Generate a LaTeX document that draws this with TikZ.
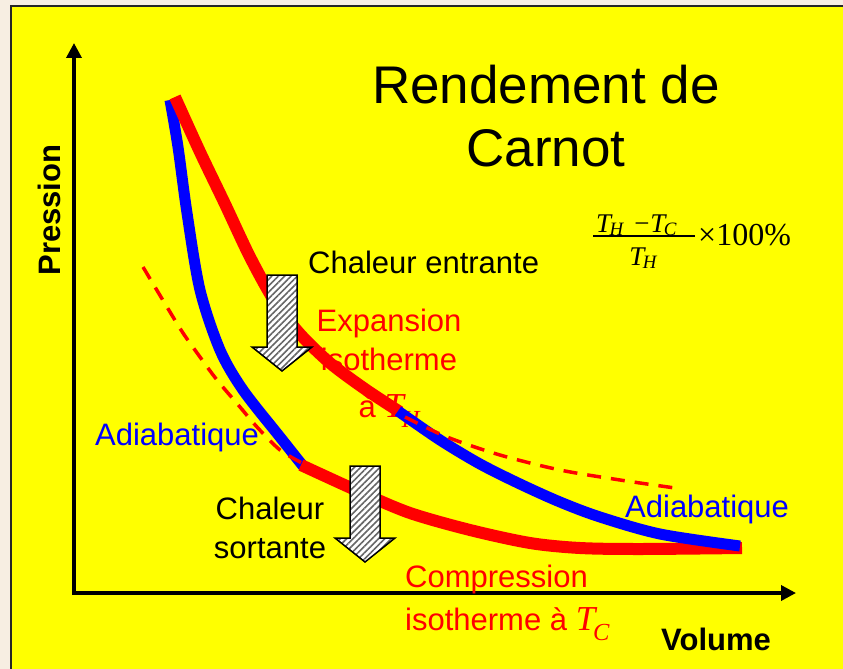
\documentclass[tikz,border=0pt]{standalone}
\usepackage{fontspec}
\setmainfont{Liberation Sans}
\newfontfamily\tnr{Liberation Serif}
\usetikzlibrary{arrows.meta, patterns.meta}
\definecolor{slide}{HTML}{FFFF00}
\definecolor{paper}{HTML}{F7EEE2}
\definecolor{hot}{HTML}{FF0000}
\definecolor{cold}{HTML}{0000FF}
\newcommand{\Tsub}[2][0.3em]{{\tnr\itshape T\kern-0.06em\raisebox{-#1}{\scalebox{0.7}{#2}}}}

\begin{document}
\begin{tikzpicture}[x=1pt, y=-1pt,
  lbl/.style={inner sep=0pt, align=center, font=\fontsize{31}{39}\selectfont},
  axlbl/.style={lbl, font=\bfseries\fontsize{31}{39}\selectfont},
  formula/.style={inner sep=0pt, font=\tnr\fontsize{27}{30}\selectfont},
  axis/.style={line width=3.5pt, {Triangle[length=15pt,width=15pt]}-{Triangle[length=15pt,width=15pt]}},
  isotherm/.style={hot, line width=12pt},
  adiabat/.style={cold, line width=11pt},
  isodash/.style={hot, line width=3.5pt, dash pattern=on 14pt off 10pt},
  heat/.style={draw=black, line width=1.5pt, line join=miter, preaction={fill=white},
               pattern={Lines[angle=45, distance=4.5pt, line width=1.6pt]}, pattern color=black!60},
]
\useasboundingbox (0,0) rectangle (843,669);

% slide
\fill[paper] (0,0) rectangle (843,669);
\fill[slide] (11,6) rectangle (850,680);
\draw[line width=2pt, black!85] (11,680) -- (11,6) -- (850,6);

% axes
\coordinate (ytop) at (74,43);
\coordinate (O) at (74,593);
\coordinate (xend) at (796,593);
\draw[axis] (ytop) -- (O) -- (xend);
\node[axlbl, rotate=90, anchor=base] (pres) at (60,210) {Pression};
\node[axlbl, anchor=base] (vol) at (716,650) {Volume};

% title and efficiency
\node[lbl, font=\fontsize{53}{63}\selectfont, anchor=base] (ttl) at (546,166) {Rendement de\\Carnot};
\node[formula, anchor=base west] (effnum) at (596,232) {\Tsub[0.12em]{H}\hspace{11pt}−\hspace{1pt}\Tsub[0.12em]{C}};
\node[formula, anchor=base] (effden) at (643,265) {\Tsub[0.12em]{H}};
\draw[line width=1.3pt] (593,236) -- (695,236);
\node[formula, font=\tnr\fontsize{32}{36}\selectfont, anchor=base west] (effpct) at (698,245) {×100\%};

% labels
\node[lbl, anchor=base west] (qinlbl) at (308,273) {Chaleur entrante};
\node[lbl, anchor=base, text=hot] (explbl) at (389,417)
  {Expansion\\isotherme\\[8pt]à {\fontsize{35}{40}\selectfont\Tsub{H}}};
\node[lbl, anchor=base west, text=cold] (adl) at (95,445) {Adiabatique};
\node[lbl, anchor=base west, text=cold] (adr) at (625,517) {Adiabatique};
\node[lbl, anchor=base] (qoutlbl) at (270,558) {Chaleur\\sortante};
\node[lbl, anchor=base west, align=left, text=hot] (cmplbl) at (405,630)
  {Compression\\[4pt]isotherme à {\fontsize{35}{40}\selectfont\Tsub{C}}};

% cycle
\draw[adiabat] plot[smooth] coordinates {(170,100) (178,147) (187,213) (200,290) (220,350) (243,390) (280,437) (303,466)};
\draw[isotherm] plot[smooth] coordinates {(175,97) (200,152) (225,204) (250,257) (275,302) (300,334) (330,363) (365,389) (400,412)};
\draw[isotherm] plot[smooth] coordinates {(301,465) (360,492) (410,513) (470,530) (530,543) (580,548) (640,549) (742,548)};
\draw[adiabat] plot[smooth] coordinates {(398,411) (440,440) (480,464) (520,484) (560,502) (600,517) (660,534) (740,546)};
\draw[isodash] plot[smooth] coordinates {(143,267) (167,307) (183,333) (200,357) (217,380) (240,407) (257,427) (280,450) (302,463)};
\draw[isodash] plot[smooth] coordinates {(405,417) (447,437) (500,455) (560,470) (620,480) (675,488)};

% heat arrows
\coordinate (qin) at (282,275);
\coordinate (qout) at (365,466);
\draw[heat] (qin) ++(-15,0) -- ++(30,0) -- ++(0,72) -- ++(15,0) -- ++(-30,24) -- ++(-30,-24) -- ++(15,0) -- cycle;
\draw[heat] (qout) ++(-15,0) -- ++(30,0) -- ++(0,72) -- ++(15,0) -- ++(-30,24) -- ++(-30,-24) -- ++(15,0) -- cycle;

\end{tikzpicture}
\end{document}
